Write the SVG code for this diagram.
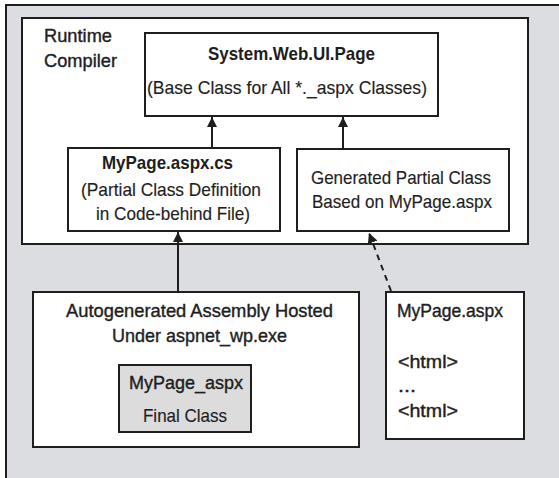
<svg xmlns="http://www.w3.org/2000/svg" width="559" height="478" viewBox="0 0 559 478">
<defs>
<style>
.box{fill:#fff;stroke:#1e1e1e;stroke-width:2}
.t{font-family:"Liberation Sans",Arial,sans-serif;font-size:19px;fill:#1e1e1e}
.c{text-anchor:middle}
.b{font-weight:bold}
.m{stroke:#1e1e1e;stroke-width:0.4}
.r{stroke:#1e1e1e;stroke-width:0.15}
.ln{stroke:#1e1e1e;stroke-width:2;fill:none}
.dash{stroke-dasharray:6,5}
</style>
<marker id="ah" viewBox="0 0 10 10" refX="10" refY="5" markerWidth="10" markerHeight="10" markerUnits="userSpaceOnUse" orient="auto">
<path d="M0,0 L10,5 L0,10 z" fill="#1e1e1e"/>
</marker>
</defs>
<rect width="559" height="478" fill="#fff"/>
<g id="outer">
<rect x="6" y="5" width="570" height="490" fill="#dcdde0" stroke="#1e1e1e" stroke-width="2"/>
</g>
<g id="runtime-compiler">
<rect class="box" x="22" y="18" width="506" height="226"/>
<text class="t m" x="44" y="42" textLength="68" lengthAdjust="spacingAndGlyphs">Runtime</text>
<text class="t m" x="44" y="67" textLength="73" lengthAdjust="spacingAndGlyphs">Compiler</text>
</g>
<g id="system-web-ui-page">
<rect class="box" x="145" y="33" width="293" height="83"/>
<text class="t c b" x="291.5" y="60" textLength="167" lengthAdjust="spacingAndGlyphs">System.Web.UI.Page</text>
<text class="t c r" x="287" y="94" textLength="280" lengthAdjust="spacingAndGlyphs">(Base Class for All *._aspx Classes)</text>
</g>
<g id="mypage-aspx-cs">
<rect class="box" x="68" y="148" width="212" height="83"/>
<text class="t c b" x="167.5" y="169" textLength="131" lengthAdjust="spacingAndGlyphs">MyPage.aspx.cs</text>
<text class="t c r" x="171" y="196" textLength="180" lengthAdjust="spacingAndGlyphs">(Partial Class Definition</text>
<text class="t c r" x="173" y="220" textLength="154" lengthAdjust="spacingAndGlyphs">in Code-behind File)</text>
</g>
<g id="generated-partial-class">
<rect class="box" x="297" y="149" width="212" height="82"/>
<text class="t c r" x="401" y="184" textLength="180" lengthAdjust="spacingAndGlyphs">Generated Partial Class</text>
<text class="t c r" x="402" y="208" textLength="180" lengthAdjust="spacingAndGlyphs">Based on MyPage.aspx</text>
</g>
<g id="autogenerated-assembly">
<rect class="box" x="33" y="292" width="326" height="155"/>
<text class="t c m" x="199.5" y="317" textLength="267" lengthAdjust="spacingAndGlyphs">Autogenerated Assembly Hosted</text>
<text class="t c m" x="199.5" y="342" textLength="175" lengthAdjust="spacingAndGlyphs">Under aspnet_wp.exe</text>
</g>
<g id="mypage-aspx-final">
<rect x="119" y="365" width="132" height="67" fill="#dcdcdd" stroke="#1e1e1e" stroke-width="2"/>
<text class="t c m" x="186" y="389" textLength="114" lengthAdjust="spacingAndGlyphs">MyPage_aspx</text>
<text class="t c r" x="185" y="422" textLength="84" lengthAdjust="spacingAndGlyphs">Final Class</text>
</g>
<g id="mypage-aspx">
<rect class="box" x="386" y="292" width="138" height="147"/>
<text class="t m" x="397" y="317" textLength="106" lengthAdjust="spacingAndGlyphs">MyPage.aspx</text>
<text class="t m" x="398" y="368" textLength="60" lengthAdjust="spacingAndGlyphs">&lt;html&gt;</text>
<text class="t m" x="398" y="392" textLength="18" lengthAdjust="spacingAndGlyphs">...</text>
<text class="t m" x="398" y="417" textLength="60" lengthAdjust="spacingAndGlyphs">&lt;html&gt;</text>
</g>
<g id="connectors">
<line class="ln" x1="212" y1="148" x2="212" y2="117" marker-end="url(#ah)"/>
<line class="ln" x1="343" y1="149" x2="343" y2="117" marker-end="url(#ah)"/>
<line class="ln" x1="178" y1="292" x2="178" y2="232" marker-end="url(#ah)"/>
<line class="ln dash" x1="391" y1="291" x2="369" y2="233" marker-end="url(#ah)"/>
</g>
</svg>
